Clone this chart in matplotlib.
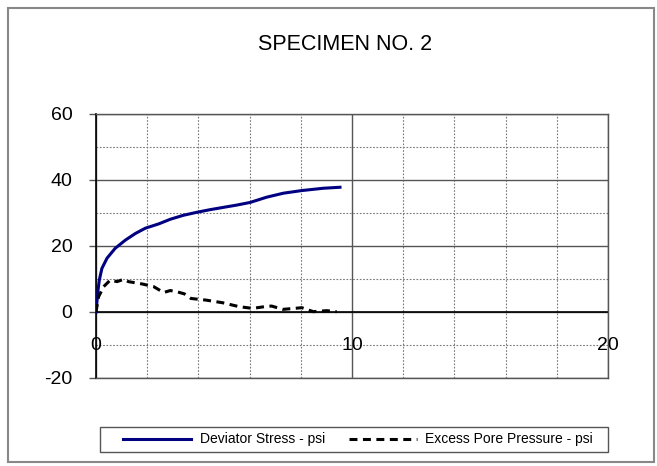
#!/usr/bin/env python3
"""Triaxial test plot: deviator stress and excess pore pressure, specimen 2."""
import matplotlib
matplotlib.use("Agg")
import matplotlib.pyplot as plt
from matplotlib.patches import Rectangle

plt.rcParams["font.family"] = ["Liberation Sans", "DejaVu Sans"]
plt.rcParams["axes.unicode_minus"] = False

# strain (%) vs deviator stress (psi)
dev_strain = [0.0, 0.08, 0.13, 0.23, 0.43, 0.75, 1.15, 1.54, 1.93, 2.45, 2.9,
              3.41, 3.93, 4.45, 4.97, 5.5, 6.02, 6.67, 7.32, 8.04, 8.88, 9.53]
dev_stress = [0.0, 6.7, 9.7, 13.2, 16.3, 19.3, 21.8, 23.8, 25.4, 26.7, 28.1,
              29.3, 30.2, 31.0, 31.7, 32.4, 33.2, 34.8, 36.0, 36.8, 37.5, 37.8]

# strain (%) vs excess pore pressure (psi)
pp_strain = [0.0, 0.1, 0.3, 0.56, 0.82, 1.08, 1.27, 1.8, 2.25, 2.64, 2.9,
             3.13, 3.45, 3.71, 4.3, 4.95, 5.6, 6.12, 6.57, 6.86, 7.3, 8.04,
             8.49, 9.01, 9.4]
pp_value = [0.0, 4.6, 7.7, 9.7, 9.2, 9.9, 9.2, 8.5, 7.7, 5.9, 6.5,
            6.2, 5.5, 4.1, 3.6, 2.8, 1.6, 1.1, 1.6, 1.8, 0.8, 1.3,
            0.1, 0.4, 0.1]

x_labels = [0, 10, 20]
y_ticks = [-20, 0, 20, 40, 60]

W, H = 657, 466
fig = plt.figure(figsize=(W / 100, H / 100), dpi=100)
fig.patches.append(Rectangle((8 / W, 4 / H), 646 / W, 454 / H, transform=fig.transFigure,
                             fill=False, edgecolor="#888888", linewidth=1.5))

ax = fig.add_axes([96 / W, 1 - 378 / H, 512 / W, 264 / H])
ax.set_xlim(0, 20)
ax.set_ylim(-20, 60)

ax.set_xticks([0, 10, 20])
ax.set_xticks([2, 4, 6, 8, 12, 14, 16, 18], minor=True)
ax.set_yticks(y_ticks)
ax.set_yticks([-10, 10, 30, 50], minor=True)
ax.grid(True, which="major", color="#555555", linewidth=1.0, linestyle="-")
ax.grid(True, which="minor", color="#777777", linewidth=0.8, linestyle=(0, (1.5, 1.5)))
ax.tick_params(axis="x", which="both", length=0, labelbottom=False)
ax.tick_params(axis="y", which="major", length=5, width=1, color="#555555",
               labelsize=14, pad=12)
ax.tick_params(axis="y", which="minor", length=0)

for side in ("top", "right", "bottom"):
    ax.spines[side].set_color("#555555")
    ax.spines[side].set_linewidth(1.0)
ax.spines["left"].set_color("black")
ax.spines["left"].set_linewidth(1.2)
ax.axhline(0, color="black", linewidth=1.2, zorder=2)

for xv in x_labels:
    ax.text(xv, -10, str(xv), ha="center", va="center", fontsize=14, zorder=3)

l1, = ax.plot(dev_strain, dev_stress, color="#000080", linewidth=2.2,
              label="Deviator Stress - psi", zorder=4)
l2, = ax.plot(pp_strain, pp_value, color="black", linewidth=2.2,
              linestyle=(0, (2.6, 1.8)), label="Excess Pore Pressure - psi", zorder=4)

fig.text(345 / W, 1 - 45 / H, "SPECIMEN NO. 2", ha="center", va="center", fontsize=15.5)

# legend box drawn separately so its width matches the plot area
fig.patches.append(Rectangle((100 / W, 1 - 452 / H), 508 / W, 25 / H,
                             transform=fig.transFigure, fill=False,
                             edgecolor="#555555", linewidth=1.0))
fig.legend(handles=[l1, l2], loc="center", bbox_to_anchor=(358 / W, 1 - 439.5 / H),
           ncol=2, frameon=False, fontsize=10, handlelength=4.9,
           handletextpad=0.6, columnspacing=1.7)

fig.savefig("out.png", dpi=100)
plt.close(fig)
